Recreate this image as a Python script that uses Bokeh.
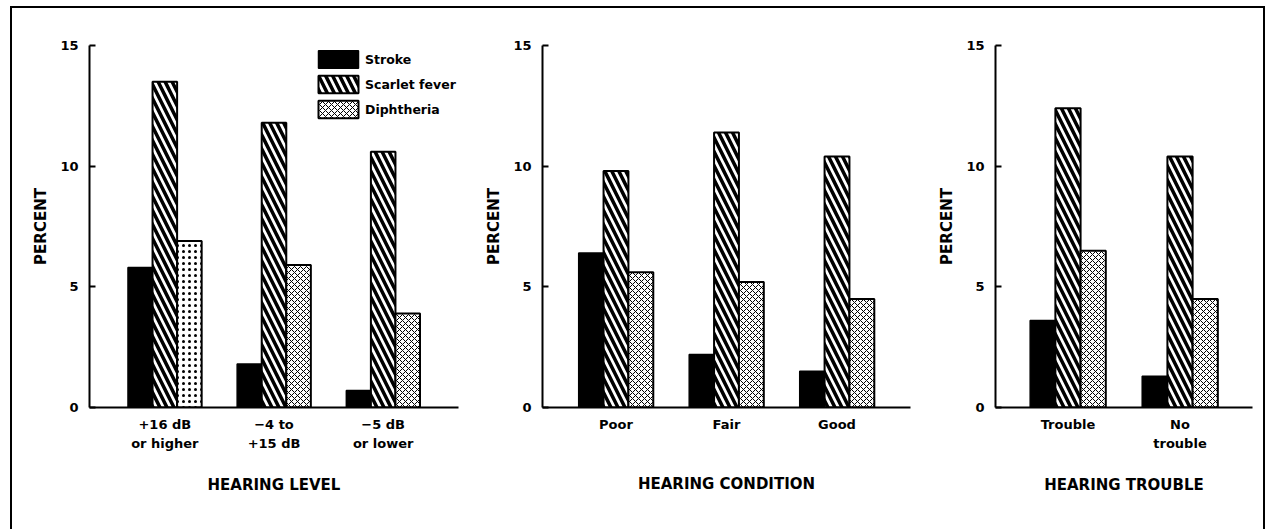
from bokeh.plotting import figure
from bokeh.models import ColumnDataSource, FactorRange, Range1d, Legend, LegendItem
from bokeh.transform import dodge
from bokeh.core.properties import value
from bokeh.layouts import row
from bokeh.embed import file_html
from bokeh.resources import INLINE

series = ["Stroke", "Scarlet fever", "Diphtheria"]

level_cats = ["+16 dB\nor higher", "\u22124 to\n+15 dB", "\u22125 dB\nor lower"]
level_stroke = [5.8, 1.8, 0.7]
level_scarlet = [13.5, 11.8, 10.6]
level_diph = [6.9, 5.9, 3.9]

cond_cats = ["Poor", "Fair", "Good"]
cond_stroke = [6.4, 2.2, 1.5]
cond_scarlet = [9.8, 11.4, 10.4]
cond_diph = [5.6, 5.2, 4.5]

trouble_cats = ["Trouble", "No\ntrouble"]
trouble_stroke = [3.6, 1.3]
trouble_scarlet = [12.4, 10.4]
trouble_diph = [6.5, 4.5]

y_ticks = [0, 5, 10, 15]

FONT = "DejaVu Sans"
BW = 0.225


def make_panel(cats, s, sc, d, dh, xlabel, width, mbl, mbr, pad, standoff, legend=False):
    src = ColumnDataSource(dict(x=cats, stroke=s, scarlet=sc, diph=d, dh=dh))
    p = figure(x_range=FactorRange(factors=cats, range_padding=pad, range_padding_units="absolute"),
               y_range=Range1d(0, 15), width=width, height=521,
               output_backend="svg", toolbar_location=None,
               min_border_left=mbl, min_border_right=mbr, min_border_top=37, min_border_bottom=122)
    p.outline_line_color = None
    p.xgrid.grid_line_color = None
    p.ygrid.grid_line_color = None
    r1 = p.vbar(x=dodge("x", -BW, range=p.x_range), top="stroke", width=BW, source=src,
                fill_color="black", line_color="black", line_width=1.5)
    r2 = p.vbar(x="x", top="scarlet", width=BW, source=src,
                fill_color="white", line_color="black", line_width=2,
                hatch_pattern=value("left_diagonal_line"), hatch_color="black",
                hatch_weight=3.5, hatch_scale=14)
    r3 = p.vbar(x=dodge("x", BW, range=p.x_range), top="diph", width=BW, source=src,
                fill_color="white", line_color="black", line_width=2,
                hatch_pattern="dh", hatch_color="black", hatch_weight=1, hatch_scale=6)

    ya = p.yaxis[0]
    ya.ticker = y_ticks
    ya.major_tick_in = 6
    ya.major_tick_out = 0
    ya.minor_tick_line_color = None
    ya.axis_line_width = 2
    ya.major_tick_line_width = 2
    ya.major_label_text_color = "black"
    ya.major_label_text_font = FONT
    ya.major_label_text_font_style = "bold"
    ya.major_label_text_font_size = "13px"
    ya.major_label_standoff = 11
    ya.axis_label = "PERCENT"
    ya.axis_label_text_color = "black"
    ya.axis_label_text_font = FONT
    ya.axis_label_text_font_style = "bold"
    ya.axis_label_text_font_size = "15px"
    ya.axis_label_standoff = 7

    xa = p.xaxis[0]
    xa.major_tick_line_color = None
    xa.minor_tick_line_color = None
    xa.axis_line_width = 2
    xa.major_label_text_color = "black"
    xa.major_label_text_font = FONT
    xa.major_label_text_font_style = "bold"
    xa.major_label_text_font_size = "13px"
    xa.major_label_text_line_height = 1.3
    xa.major_label_standoff = 3
    xa.axis_label = xlabel
    xa.axis_label_text_color = "black"
    xa.axis_label_text_font = FONT
    xa.axis_label_text_font_style = "bold"
    xa.axis_label_text_font_size = "15px"
    xa.axis_label_standoff = standoff

    if legend:
        lg = Legend(items=[LegendItem(label=series[0], renderers=[r1]),
                           LegendItem(label=series[1], renderers=[r2]),
                           LegendItem(label=series[2], renderers=[r3], index=1)],
                    location=(224, 287), glyph_width=50, glyph_height=22, spacing=3,
                    padding=0, margin=0, label_standoff=2,
                    border_line_color=None, background_fill_alpha=0,
                    label_text_color="black",
                    label_text_font=FONT, label_text_font_style="bold",
                    label_text_font_size="12.5px")
        p.add_layout(lg)
    return p


p1 = make_panel(level_cats, level_stroke, level_scarlet, level_diph,
                ["dot", "diagonal_cross", "diagonal_cross"], "HEARING LEVEL",
                458, 77, 12, 0.19, 22, legend=True)
p2 = make_panel(cond_cats, cond_stroke, cond_scarlet, cond_diph,
                ["diagonal_cross"] * 3, "HEARING CONDITION",
                460, 72, 20, 0.165, 40)
p3 = make_panel(trouble_cats, trouble_stroke, trouble_scarlet, trouble_diph,
                ["diagonal_cross"] * 2, "HEARING TROUBLE",
                333, 65, 11, 0.147, 22)

layout = row(p1, p2, p3, styles={"border-top": "2px solid black",
                                 "border-left": "2px solid black",
                                 "border-right": "2px solid black",
                                 "margin-left": "10px",
                                 "margin-top": "6px"})

open("out.html", "w").write(file_html(layout, INLINE))
